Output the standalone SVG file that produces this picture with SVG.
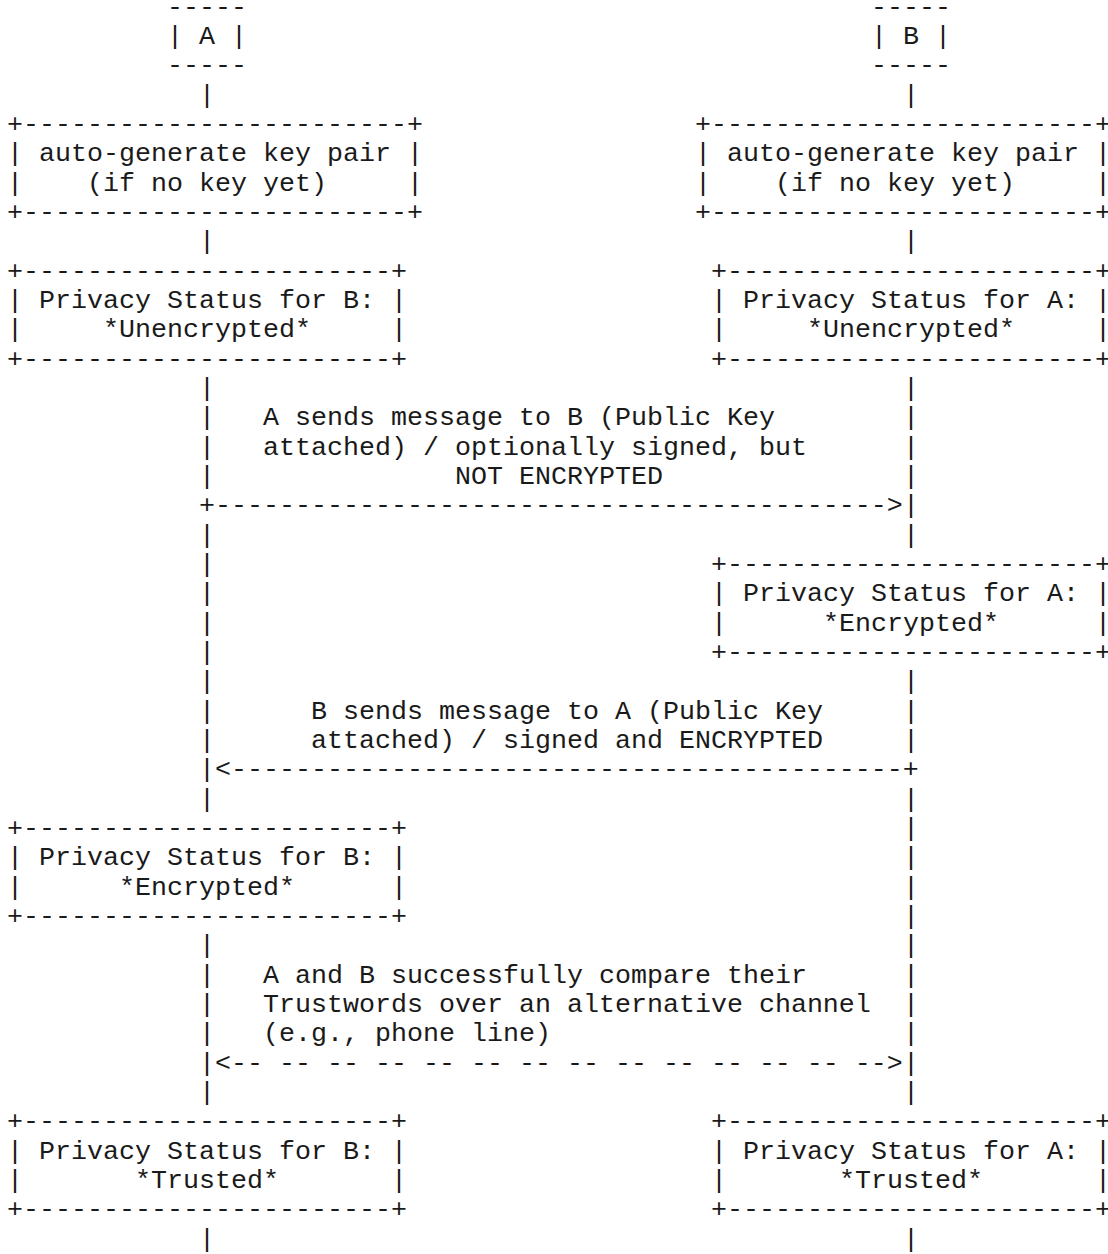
<svg xmlns="http://www.w3.org/2000/svg" width="1108" height="1254" viewBox="0 0 1108 1254">
<style>
text { font-family: "Liberation Mono", "Courier New", "DejaVu Sans Mono", monospace; font-size: 26.667px; fill: #1a1a1a; }
</style>
<rect x="0" y="0" width="1108" height="1254" fill="#ffffff"/>

<g id="node-A">
<text x="167" y="14.7">-----</text>
<text x="167" y="44.0">|</text><text x="199" y="44.0">A</text><text x="231" y="44.0">|</text>
<text x="167" y="73.4">-----</text>
</g>
<g id="node-B">
<text x="871" y="14.7">-----</text>
<text x="871" y="44.0">|</text><text x="903" y="44.0">B</text><text x="935" y="44.0">|</text>
<text x="871" y="73.4">-----</text>
</g>

<g id="keygen-A">
<text x="7" y="132.0">+------------------------+</text>
<text x="7" y="161.4">|</text><text x="39" y="161.4">auto-generate key pair</text><text x="407" y="161.4">|</text>
<text x="7" y="190.7">|</text><text x="87" y="190.7">(if no key yet)</text><text x="407" y="190.7">|</text>
<text x="7" y="220.0">+------------------------+</text>
</g>
<g id="keygen-B">
<text x="695" y="132.0">+------------------------+</text>
<text x="695" y="161.4">|</text><text x="727" y="161.4">auto-generate key pair</text><text x="1095" y="161.4">|</text>
<text x="695" y="190.7">|</text><text x="775" y="190.7">(if no key yet)</text><text x="1095" y="190.7">|</text>
<text x="695" y="220.0">+------------------------+</text>
</g>

<g id="status-B-unencrypted">
<text x="7" y="278.7">+-----------------------+</text>
<text x="7" y="308.0">|</text><text x="39" y="308.0">Privacy Status for B:</text><text x="391" y="308.0">|</text>
<text x="7" y="337.4">|</text><text x="103" y="337.4">*Unencrypted*</text><text x="391" y="337.4">|</text>
<text x="7" y="366.7">+-----------------------+</text>
</g>
<g id="status-A-unencrypted">
<text x="711" y="278.7">+-----------------------+</text>
<text x="711" y="308.0">|</text><text x="743" y="308.0">Privacy Status for A:</text><text x="1095" y="308.0">|</text>
<text x="711" y="337.4">|</text><text x="807" y="337.4">*Unencrypted*</text><text x="1095" y="337.4">|</text>
<text x="711" y="366.7">+-----------------------+</text>
</g>

<g id="status-A-encrypted">
<text x="711" y="572.0">+-----------------------+</text>
<text x="711" y="601.4">|</text><text x="743" y="601.4">Privacy Status for A:</text><text x="1095" y="601.4">|</text>
<text x="711" y="630.7">|</text><text x="823" y="630.7">*Encrypted*</text><text x="1095" y="630.7">|</text>
<text x="711" y="660.0">+-----------------------+</text>
</g>

<g id="status-B-encrypted">
<text x="7" y="836.0">+-----------------------+</text>
<text x="7" y="865.4">|</text><text x="39" y="865.4">Privacy Status for B:</text><text x="391" y="865.4">|</text>
<text x="7" y="894.7">|</text><text x="119" y="894.7">*Encrypted*</text><text x="391" y="894.7">|</text>
<text x="7" y="924.0">+-----------------------+</text>
</g>

<g id="status-B-trusted">
<text x="7" y="1129.4">+-----------------------+</text>
<text x="7" y="1158.7">|</text><text x="39" y="1158.7">Privacy Status for B:</text><text x="391" y="1158.7">|</text>
<text x="7" y="1188.0">|</text><text x="135" y="1188.0">*Trusted*</text><text x="391" y="1188.0">|</text>
<text x="7" y="1217.4">+-----------------------+</text>
</g>
<g id="status-A-trusted">
<text x="711" y="1129.4">+-----------------------+</text>
<text x="711" y="1158.7">|</text><text x="743" y="1158.7">Privacy Status for A:</text><text x="1095" y="1158.7">|</text>
<text x="711" y="1188.0">|</text><text x="839" y="1188.0">*Trusted*</text><text x="1095" y="1188.0">|</text>
<text x="711" y="1217.4">+-----------------------+</text>
</g>

<g id="connectors">
<!-- lifeline A (col 12) -->
<g id="lifeline-A">
<text x="199" y="102.7">|</text>
<text x="199" y="249.4">|</text>
<text x="199" y="396.0">|</text>
<text x="199" y="425.4">|</text>
<text x="199" y="454.7">|</text>
<text x="199" y="484.0">|</text>
<text x="199" y="542.7">|</text>
<text x="199" y="572.0">|</text>
<text x="199" y="601.4">|</text>
<text x="199" y="630.7">|</text>
<text x="199" y="660.0">|</text>
<text x="199" y="689.4">|</text>
<text x="199" y="718.7">|</text>
<text x="199" y="748.0">|</text>
<text x="199" y="777.4">|</text>
<text x="199" y="806.7">|</text>
<text x="199" y="953.4">|</text>
<text x="199" y="982.7">|</text>
<text x="199" y="1012.0">|</text>
<text x="199" y="1041.4">|</text>
<text x="199" y="1070.7">|</text>
<text x="199" y="1100.0">|</text>
<text x="199" y="1246.7">|</text>
</g>
<!-- lifeline B (col 56) -->
<g id="lifeline-B">
<text x="903" y="102.7">|</text>
<text x="903" y="249.4">|</text>
<text x="903" y="396.0">|</text>
<text x="903" y="425.4">|</text>
<text x="903" y="454.7">|</text>
<text x="903" y="484.0">|</text>
<text x="903" y="513.4">|</text>
<text x="903" y="542.7">|</text>
<text x="903" y="689.4">|</text>
<text x="903" y="718.7">|</text>
<text x="903" y="748.0">|</text>
<text x="903" y="806.7">|</text>
<text x="903" y="836.0">|</text>
<text x="903" y="865.4">|</text>
<text x="903" y="894.7">|</text>
<text x="903" y="924.0">|</text>
<text x="903" y="953.4">|</text>
<text x="903" y="982.7">|</text>
<text x="903" y="1012.0">|</text>
<text x="903" y="1041.4">|</text>
<text x="903" y="1070.7">|</text>
<text x="903" y="1100.0">|</text>
<text x="903" y="1246.7">|</text>
</g>

<g id="msg-A-to-B">
<text x="263" y="425.4">A sends message to B (Public Key</text>
<text x="263" y="454.7">attached) / optionally signed, but</text>
<text x="455" y="484.0">NOT ENCRYPTED</text>
<text x="199" y="513.4">+------------------------------------------&gt;</text>
</g>

<g id="msg-B-to-A">
<text x="311" y="718.7">B sends message to A (Public Key</text>
<text x="311" y="748.0">attached) / signed and ENCRYPTED</text>
<text x="215" y="777.4">&lt;------------------------------------------+</text>
</g>

<g id="trustwords-compare">
<text x="263" y="982.7">A and B successfully compare their</text>
<text x="263" y="1012.0">Trustwords over an alternative channel</text>
<text x="263" y="1041.4">(e.g., phone line)</text>
<text x="215" y="1070.7">&lt;-- -- -- -- -- -- -- -- -- -- -- -- -- --&gt;</text>
</g>
</g>
</svg>
